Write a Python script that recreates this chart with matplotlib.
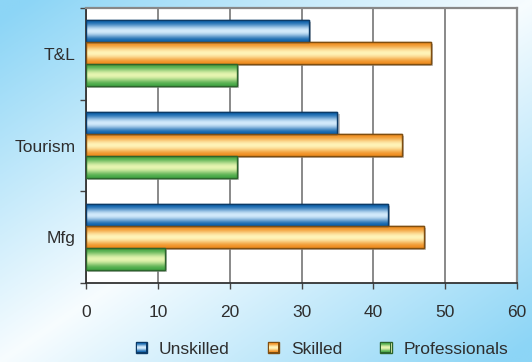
import numpy as np
import matplotlib
matplotlib.use("Agg")
import matplotlib.pyplot as plt
from matplotlib.colors import to_rgb
import matplotlib.patheffects as pe

plt.rcParams['font.family'] = ['Liberation Sans', 'DejaVu Sans']

categories = ["Mfg", "Tourism", "T&L"]
series_names = ["Unskilled", "Skilled", "Professionals"]
unskilled = [42, 35, 31]
skilled = [47, 44, 48]
professionals = [11, 21, 21]
xticks = [0, 10, 20, 30, 40, 50, 60]

values = [unskilled, skilled, professionals]
dark = ["#0f62ab", "#f08f22", "#47a847"]
light = ["#d2eafb", "#fff3b8", "#e6f5b0"]
edges = ["#0c3a66", "#7f4e10", "#2c652c"]
text_color = "#2e2e2e"

W, H = 532, 362
fig = plt.figure(figsize=(W / 100, H / 100), dpi=100)

# background gradient
bg = fig.add_axes([0, 0, 1, 1], zorder=-10)
yy, xx = np.mgrid[0:1:200j, 0:1:300j]
t = (xx + yy) / 2.0
d = np.abs(t - 0.5) * 2
blue = np.array(to_rgb("#8cd5f6"))
white = np.array([0.97, 0.99, 1.0])
w = np.clip(d * 1.05, 0, 1) ** 1.0
img = white[None, None, :] * (1 - w[..., None]) + blue[None, None, :] * w[..., None]
bg.imshow(img, extent=[0, 1, 0, 1], aspect='auto', origin='upper')
bg.axis('off')

ax = fig.add_axes([86 / W, 1 - 283 / H, (517 - 86) / W, (283 - 8) / H])
ax.set_facecolor("white")

def grad_img(i, n=64):
    tt = np.linspace(0, 1, n)
    f = np.sin(np.pi * tt) ** 2.2
    c0 = np.array(to_rgb(dark[i]))
    c1 = np.array(to_rgb(light[i]))
    col = c0[None, :] + (c1 - c0)[None, :] * f[:, None]
    return col[:, None, :]

y = np.arange(len(categories))
bh = 0.24
offsets = [bh, 0, -bh]
for i, vals in enumerate(values):
    bars = ax.barh(y + offsets[i] + 0.005, vals, height=bh, color=dark[i],
                   edgecolor=edges[i], linewidth=1.0, zorder=3,
                   path_effects=[pe.SimplePatchShadow(offset=(1.5, -1.5), shadow_rgbFace='#999999', alpha=0.6), pe.Normal()])
    for b in bars:
        x0, y0 = b.get_x(), b.get_y()
        w_, h_ = b.get_width(), b.get_height()
        im = ax.imshow(grad_img(i), extent=[x0, x0 + w_, y0, y0 + h_], aspect='auto',
                       origin='upper', zorder=3.5, interpolation='bilinear')
        im.set_clip_path(b)
        ax.add_patch(plt.Rectangle((x0, y0), w_, h_, fill=False, edgecolor=edges[i],
                                   linewidth=1.0, zorder=4))

ax.set_xlim(0, 60)
ax.set_ylim(-0.5, 2.5)
ax.set_xticks(xticks)
ax.set_xticklabels([str(v) for v in xticks])
ax.set_yticks([-0.5, 0.5, 1.5, 2.5])
ax.set_yticklabels([])
ax.set_yticks(y, minor=True)
ax.set_yticklabels(categories, minor=True)
ax.tick_params(axis='y', which='major', direction='out', length=4.5, width=1, color='#444444')
ax.tick_params(axis='y', which='minor', length=0, pad=7.5, labelsize=12.5, labelcolor=text_color)
ax.tick_params(axis='x', direction='out', length=4.5, width=1, color='#444444', pad=11,
               labelsize=12.5, labelcolor=text_color)
ax.grid(axis='x', color='#808080', linewidth=1.3, zorder=1)
ax.set_axisbelow(True)
for s in ['top', 'right']:
    ax.spines[s].set_color('#888888')
    ax.spines[s].set_linewidth(1.6)
for s in ['left', 'bottom']:
    ax.spines[s].set_color('#333333')
    ax.spines[s].set_linewidth(1.3)

# legend
handles = [plt.Rectangle((0, 0), 1, 1, facecolor=light[i], edgecolor=edges[i], linewidth=1.0)
           for i in range(3)]
leg = fig.legend(handles, series_names, loc='center', bbox_to_anchor=(322 / W, 1 - 349 / H),
                 ncol=3, frameon=False, fontsize=12.5, handlelength=0.64, handleheight=0.64,
                 columnspacing=2.2, handletextpad=0.7, labelcolor=text_color)

fig.canvas.draw()
for i, h in enumerate(leg.legend_handles):
    bb = h.get_window_extent()
    hw = int(round(bb.width)); hh = int(round(bb.height))
    g = grad_img(i, hh)[:, 0, :]
    arr = np.repeat(g[:, None, :], hw, axis=1)
    arr[0, :, :] = to_rgb(edges[i]); arr[-1, :, :] = to_rgb(edges[i])
    arr[:, 0, :] = to_rgb(edges[i]); arr[:, -1, :] = to_rgb(edges[i])
    fig.figimage(arr, xo=int(round(bb.x0)), yo=int(round(bb.y0)), zorder=10, origin='upper')

fig.savefig("out.png", dpi=100)
